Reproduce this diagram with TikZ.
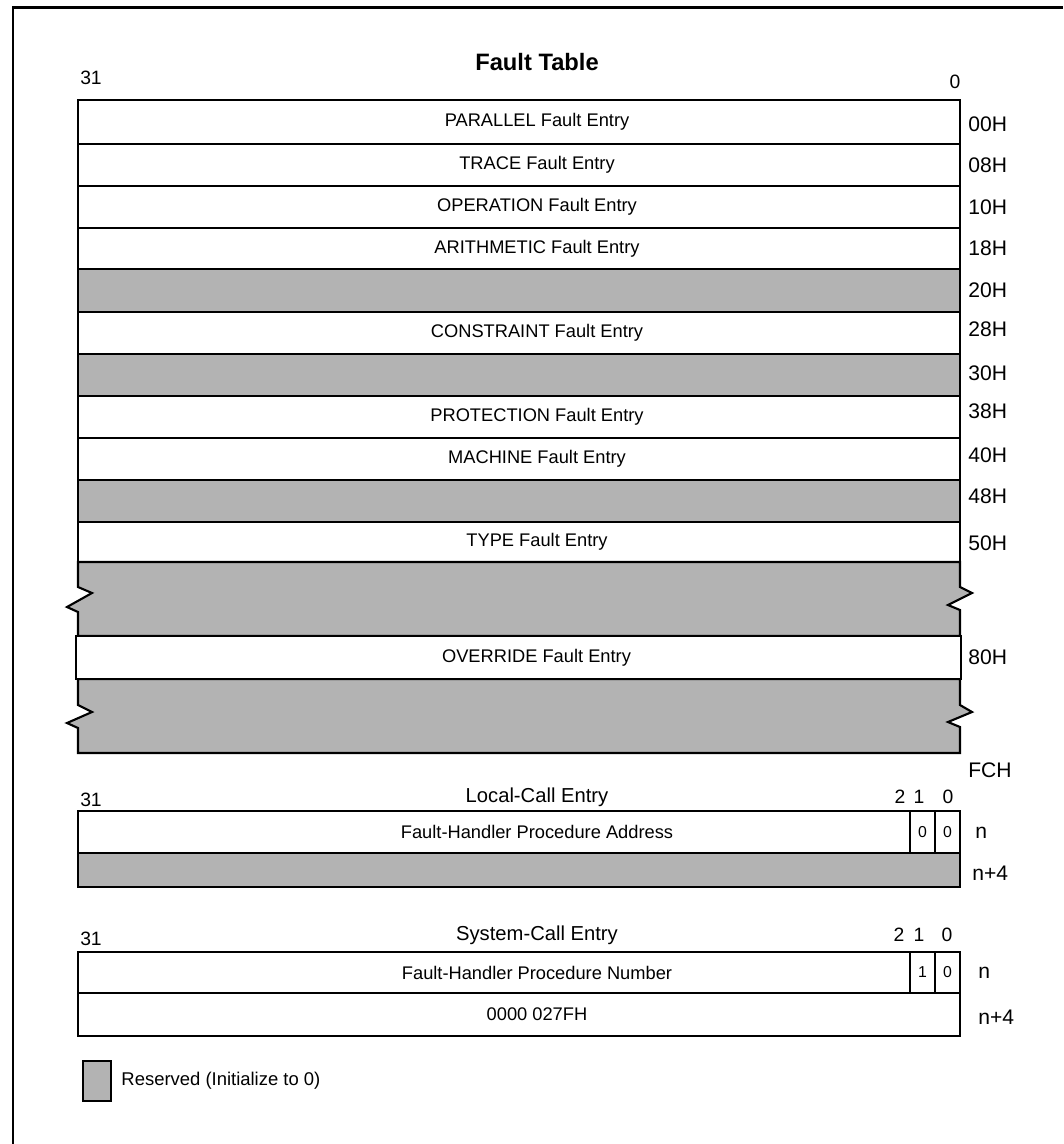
\documentclass[tikz,border=0pt]{standalone}
\usepackage{fontspec}
\setmainfont{Liberation Sans}
\usetikzlibrary{positioning}
\definecolor{resgray}{RGB}{179,179,179}

\begin{document}
\begin{tikzpicture}[x=0.02cm,y=-0.02cm,
  fld/.style={draw=black,line width=1.2pt,fill=white,minimum width=17.64cm,inner sep=0pt,outer sep=0pt},
  rsv/.style={fld,fill=resgray},
  ent/.style={fld,label={[etxt]center:#1}},
  etxt/.style={xshift=0.36cm,inner sep=0pt,font=\fontsize{10.4}{12}\selectfont},
  bitbox/.style={draw=black,line width=1.2pt,fill=white,minimum width=0.5cm,inner sep=0pt,outer sep=0pt,font=\fontsize{9}{10}\selectfont},
  ofs/.style={anchor=west,inner sep=0pt,font=\fontsize{12}{14}\selectfont},
  bitno/.style={inner sep=0pt,font=\fontsize{11}{13}\selectfont},
  hdr/.style={inner sep=0pt,font=\fontsize{11.5}{14}\selectfont}]
\useasboundingbox (0,0) rectangle (1063,1144);
% frame
\draw[line width=1.7pt] (13,1144) -- (13,7) -- (1063,7);

% fault table
\node[font=\bfseries\fontsize{13.5}{16}\selectfont,inner sep=0pt] (ttl) at (537,62) {Fault Table};
\node[bitno] (ftHi) at (91,78) {31};
\node[bitno] (ftLo) at (955,82) {0};
\node[ent=PARALLEL Fault Entry,minimum height=0.88cm] (par) at (519,122) {};
\node[ent=TRACE Fault Entry,minimum height=0.84cm] (trc) at (519,165) {};
\node[ent=OPERATION Fault Entry,minimum height=0.84cm] (opr) at (519,207) {};
\node[ent=ARITHMETIC Fault Entry,minimum height=0.82cm] (ari) at (519,248.5) {};
\node[rsv,minimum height=0.86cm] (r20) at (519,290.5) {};
\node[ent=CONSTRAINT Fault Entry,minimum height=0.84cm] (con) at (519,333) {};
\node[rsv,minimum height=0.84cm] (r30) at (519,375) {};
\node[ent=PROTECTION Fault Entry,minimum height=0.84cm] (pro) at (519,417) {};
\node[ent=MACHINE Fault Entry,minimum height=0.84cm] (mac) at (519,459) {};
\node[rsv,minimum height=0.84cm] (r48) at (519,501) {};
\node[ent=TYPE Fault Entry,minimum height=0.80cm] (typ) at (519,542) {};
% broken reserved areas
\draw[line width=1.2pt,fill=resgray] (78,562) -- (960,562) -- (960,587) -- (972,593) -- (948,605) -- (960,610) -- (960,636)
  -- (78,636) -- (78,612) -- (67,607) -- (92,593) -- (78,587) -- cycle;
\draw[line width=1.2pt,fill=resgray] (78,679) -- (960,679) -- (960,705) -- (972,712) -- (948,722) -- (960,727) -- (960,753)
  -- (78,753) -- (78,728) -- (67,723) -- (92,712) -- (78,705) -- cycle;
\node[ent=OVERRIDE Fault Entry,minimum width=17.7cm,minimum height=0.86cm] (ovr) at (518.5,657.5) {};

\node[ofs] (o00) at (968,124) {00H};
\node[ofs] (o08) at (968,165) {08H};
\node[ofs] (o10) at (968,207) {10H};
\node[ofs] (o18) at (968,248) {18H};
\node[ofs] (o20) at (968,290) {20H};
\node[ofs] (o28) at (968,329) {28H};
\node[ofs] (o30) at (968,373) {30H};
\node[ofs] (o38) at (968,411) {38H};
\node[ofs] (o40) at (968,455) {40H};
\node[ofs] (o48) at (968,496) {48H};
\node[ofs] (o50) at (968,543) {50H};
\node[ofs] (o80) at (968,657) {80H};
\node[ofs] (oFC) at (968,770) {FCH};

% local-call entry
\node[hdr] (lcHdr) at (537,797) {Local-Call Entry};
\node[bitno] (lcHi) at (91,800) {31};
\node[bitno] (lcB2) at (900,797) {2};
\node[bitno] (lcB1) at (919,797) {1};
\node[bitno] (lcB0) at (948,797) {0};
\node[ent=Fault-Handler Procedure Address,minimum height=0.84cm] (lcAdr) at (519,832) {};
\node[bitbox,minimum height=0.84cm] (lcBox1) at (922.5,832) {0};
\node[bitbox,minimum height=0.84cm] (lcBox0) at (947.5,832) {0};
\node[rsv,minimum height=0.68cm] (lcRsv) at (519,870) {};
\node[ofs] (lcN) at (975,833) {n};
\node[ofs] (lcN4) at (972,873) {n+4};

% system-call entry
\node[hdr] (scHdr) at (537,935) {System-Call Entry};
\node[bitno] (scHi) at (91,939) {31};
\node[bitno] (scB2) at (899,935) {2};
\node[bitno] (scB1) at (919,935) {1};
\node[bitno] (scB0) at (947,935) {0};
\node[ent=Fault-Handler Procedure Number,minimum height=0.82cm] (scNum) at (519,972.5) {};
\node[bitbox,minimum height=0.82cm] (scBox1) at (922.5,972.5) {1};
\node[bitbox,minimum height=0.82cm] (scBox0) at (947.5,972.5) {0};
\node[ent=0000 027FH,minimum height=0.86cm] (scWrd) at (519,1014.5) {};
\node[ofs] (scN) at (978,973) {n};
\node[ofs] (scN4) at (978,1017) {n+4};

% legend
\node[draw=black,line width=1.3pt,fill=resgray,minimum width=0.56cm,minimum height=0.8cm,inner sep=0pt] (key) at (97,1081) {};
\node[right=0.18cm of key,inner sep=0pt,font=\fontsize{10.5}{12}\selectfont] (keyTxt) {Reserved (Initialize to 0)};
\end{tikzpicture}
\end{document}
